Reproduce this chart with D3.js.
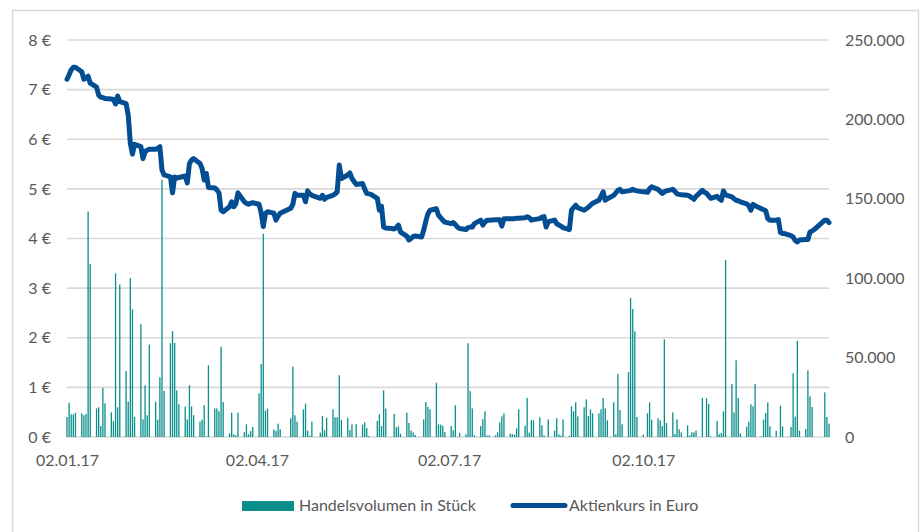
<!DOCTYPE html>
<html>
<head>
<meta charset="utf-8">
<script src="https://d3js.org/d3.v7.min.js"></script>
<style>
  body { margin: 0; background: #fff; }
  svg text { font-family: Lato, "Open Sans", sans-serif; fill: #595959; }
</style>
</head>
<body>
<div id="vis-container"></div>
<script>
// width and height
const w = 920
const h = 532
const margin = { left: 67, right: 91, top: 40, bottom: 95 }
const fontSize = "16px"

// x axis labels (date axis)
const tickDates = ["2017-01-02", "2017-04-02", "2017-07-02", "2017-10-02"]
const tickLabels = ["02.01.17", "02.04.17", "02.07.17", "02.10.17"]
const firstDay = "2017-01-02"
const lastDay = "2017-12-29"

// left axis: share price in euro, right axis: volume in shares
const priceTicks = [0, 1, 2, 3, 4, 5, 6, 7, 8]
const volumeTicks = [0, 50000, 100000, 150000, 200000, 250000]

const seriesNames = ["Handelsvolumen in Stück", "Aktienkurs in Euro"]

// closing price
const price = [
    ["01-02", 7.21], ["01-03", 7.30], ["01-04", 7.40], ["01-05", 7.45], ["01-06", 7.45],
    ["01-09", 7.36], ["01-10", 7.21], ["01-11", 7.24], ["01-12", 7.27], ["01-13", 7.13],
    ["01-16", 7.05], ["01-17", 6.89], ["01-18", 6.85], ["01-19", 6.84], ["01-20", 6.82],
    ["01-23", 6.81], ["01-24", 6.80], ["01-25", 6.71], ["01-26", 6.87], ["01-27", 6.76],
    ["01-30", 6.72], ["01-31", 6.49], ["02-01", 5.92], ["02-02", 5.70], ["02-03", 5.90],
    ["02-06", 5.85], ["02-07", 5.61], ["02-08", 5.75], ["02-09", 5.78], ["02-10", 5.80],
    ["02-13", 5.80], ["02-14", 5.82], ["02-15", 5.85], ["02-16", 5.38], ["02-17", 5.28],
    ["02-20", 5.24], ["02-21", 4.92], ["02-22", 5.24], ["02-23", 5.22], ["02-24", 5.23],
    ["02-27", 5.26], ["02-28", 5.12], ["03-01", 5.51], ["03-02", 5.58], ["03-03", 5.61],
    ["03-06", 5.51], ["03-07", 5.41], ["03-08", 5.18], ["03-09", 5.31], ["03-10", 5.03],
    ["03-13", 5.02], ["03-14", 4.98], ["03-15", 4.92], ["03-16", 4.57], ["03-17", 4.54],
    ["03-20", 4.64], ["03-21", 4.74], ["03-22", 4.64], ["03-23", 4.70], ["03-24", 4.92],
    ["03-27", 4.74], ["03-28", 4.71], ["03-29", 4.69], ["03-30", 4.71], ["03-31", 4.72],
    ["04-03", 4.69], ["04-04", 4.51], ["04-05", 4.24], ["04-06", 4.50], ["04-07", 4.54],
    ["04-10", 4.51], ["04-11", 4.37], ["04-12", 4.45], ["04-13", 4.51],
    ["04-18", 4.61], ["04-19", 4.69], ["04-20", 4.91], ["04-21", 4.87],
    ["04-24", 4.87], ["04-25", 4.74], ["04-26", 4.96], ["04-27", 4.90], ["04-28", 4.87],
    ["05-02", 4.81], ["05-03", 4.87], ["05-04", 4.79], ["05-05", 4.83],
    ["05-08", 4.87], ["05-09", 4.90], ["05-10", 4.94], ["05-11", 5.48], ["05-12", 5.21],
    ["05-15", 5.28], ["05-16", 5.32], ["05-17", 5.21], ["05-18", 5.15], ["05-19", 5.09],
    ["05-22", 5.11], ["05-23", 5.00], ["05-24", 4.91], ["05-25", 4.90], ["05-26", 4.89],
    ["05-29", 4.81], ["05-30", 4.57], ["05-31", 4.65], ["06-01", 4.23], ["06-02", 4.21],
    ["06-05", 4.20], ["06-06", 4.19], ["06-07", 4.22], ["06-08", 4.27], ["06-09", 4.13],
    ["06-12", 4.05], ["06-13", 3.97], ["06-14", 4.00], ["06-15", 4.04], ["06-16", 4.05],
    ["06-19", 4.03], ["06-20", 4.17], ["06-21", 4.35], ["06-22", 4.50], ["06-23", 4.57],
    ["06-26", 4.60], ["06-27", 4.47], ["06-28", 4.42], ["06-29", 4.37], ["06-30", 4.33],
    ["07-03", 4.30], ["07-04", 4.32], ["07-05", 4.28], ["07-06", 4.23], ["07-07", 4.20],
    ["07-10", 4.18], ["07-11", 4.22], ["07-12", 4.23], ["07-13", 4.23], ["07-14", 4.30],
    ["07-17", 4.37], ["07-18", 4.27], ["07-19", 4.33], ["07-20", 4.37], ["07-21", 4.37],
    ["07-24", 4.38], ["07-25", 4.38], ["07-26", 4.38], ["07-27", 4.25], ["07-28", 4.40],
    ["07-31", 4.40], ["08-01", 4.40], ["08-02", 4.40], ["08-03", 4.41], ["08-04", 4.41],
    ["08-07", 4.42], ["08-08", 4.44], ["08-09", 4.42], ["08-10", 4.37], ["08-11", 4.38],
    ["08-14", 4.40], ["08-15", 4.43], ["08-16", 4.44], ["08-17", 4.23], ["08-18", 4.34],
    ["08-21", 4.37], ["08-22", 4.30], ["08-23", 4.27], ["08-24", 4.25], ["08-25", 4.22],
    ["08-28", 4.18], ["08-29", 4.57], ["08-30", 4.62], ["08-31", 4.67], ["09-01", 4.62],
    ["09-04", 4.57], ["09-05", 4.60], ["09-06", 4.63], ["09-07", 4.67], ["09-08", 4.71],
    ["09-11", 4.77], ["09-12", 4.85], ["09-13", 4.94], ["09-14", 4.77], ["09-15", 4.80],
    ["09-18", 4.87], ["09-19", 4.92], ["09-20", 4.97], ["09-21", 4.99], ["09-22", 4.94],
    ["09-25", 4.96], ["09-26", 4.97], ["09-27", 4.99], ["09-28", 4.97], ["09-29", 4.96],
    ["10-02", 4.94], ["10-03", 4.94], ["10-04", 4.93], ["10-05", 5.00], ["10-06", 5.04],
    ["10-09", 4.99], ["10-10", 4.95], ["10-11", 4.91], ["10-12", 4.94], ["10-13", 4.96],
    ["10-16", 4.99], ["10-17", 4.95], ["10-18", 4.90], ["10-19", 4.89], ["10-20", 4.88],
    ["10-23", 4.87], ["10-24", 4.85], ["10-25", 4.82], ["10-26", 4.79], ["10-27", 4.85],
    ["10-30", 4.97], ["10-31", 4.93], ["11-01", 4.91], ["11-02", 4.86], ["11-03", 4.81],
    ["11-06", 4.85], ["11-07", 4.80], ["11-08", 4.77], ["11-09", 4.96], ["11-10", 4.88],
    ["11-13", 4.84], ["11-14", 4.80], ["11-15", 4.77], ["11-16", 4.76], ["11-17", 4.74],
    ["11-20", 4.70], ["11-21", 4.66], ["11-22", 4.57], ["11-23", 4.69], ["11-24", 4.66],
    ["11-27", 4.60], ["11-28", 4.58], ["11-29", 4.56], ["11-30", 4.40], ["12-01", 4.37],
    ["12-04", 4.37], ["12-05", 4.38], ["12-06", 4.12], ["12-07", 4.10], ["12-08", 4.10],
    ["12-11", 4.06], ["12-12", 4.03], ["12-13", 3.96], ["12-14", 3.93], ["12-15", 3.97],
    ["12-18", 3.98], ["12-19", 3.98], ["12-20", 4.13], ["12-21", 4.15], ["12-22", 4.18],
    ["12-27", 4.37], ["12-28", 4.37], ["12-29", 4.32]
]

// traded volume in shares (days without trades left out)
const volume = [
    ["01-02", 12600], ["01-03", 21600], ["01-04", 14300], ["01-05", 14300], ["01-06", 15300],
    ["01-09", 14900], ["01-10", 13700], ["01-11", 14500], ["01-12", 142000], ["01-13", 109000],
    ["01-16", 18000], ["01-17", 18700], ["01-18", 6900], ["01-19", 31000], ["01-20", 21200],
    ["01-23", 15500], ["01-24", 10000], ["01-25", 103000], ["01-26", 18700], ["01-27", 96000],
    ["01-30", 41600], ["01-31", 22300], ["02-01", 100000], ["02-02", 80400], ["02-03", 12600],
    ["02-06", 71000], ["02-07", 11100], ["02-08", 32600], ["02-09", 13700], ["02-10", 58200],
    ["02-13", 22300], ["02-14", 10900], ["02-15", 37600], ["02-16", 162000], ["02-17", 29000],
    ["02-20", 59000], ["02-21", 66600], ["02-22", 59200], ["02-23", 29400], ["02-24", 20600],
    ["02-27", 19100], ["02-28", 11100], ["03-01", 32600], ["03-02", 19300], ["03-03", 13700],
    ["03-06", 9700], ["03-07", 10900], ["03-08", 20000], ["03-09", 400], ["03-10", 45200],
    ["03-13", 18000], ["03-14", 18000], ["03-15", 16200], ["03-16", 56900], ["03-17", 22000],
    ["03-20", 2300], ["03-21", 15300], ["03-22", 1700], ["03-23", 1000], ["03-24", 15300],
    ["03-27", 3100], ["03-28", 8000], ["03-29", 1700], ["03-30", 3800], ["03-31", 6300],
    ["04-03", 27500], ["04-04", 46000], ["04-05", 128000], ["04-06", 16600], ["04-07", 17900],
    ["04-10", 4800], ["04-11", 3800], ["04-12", 8400], ["04-13", 4800],
    ["04-18", 11800], ["04-19", 44300], ["04-20", 13700], ["04-21", 9700],
    ["04-24", 17400], ["04-25", 21000], ["04-26", 4000], ["04-27", 800], ["04-28", 9700],
    ["05-02", 2700], ["05-03", 13200], ["05-04", 4200], ["05-05", 12200],
    ["05-08", 17400], ["05-09", 12400], ["05-10", 12400], ["05-11", 38900], ["05-12", 10700],
    ["05-15", 12200], ["05-16", 4400], ["05-17", 8000], ["05-19", 8000],
    ["05-22", 7800], ["05-23", 9200], ["05-24", 5700], ["05-25", 600],
    ["05-29", 10100], ["05-30", 14300], ["05-31", 6900], ["06-01", 29400], ["06-02", 17900],
    ["06-06", 14500], ["06-07", 6100], ["06-08", 6700], ["06-09", 2100],
    ["06-12", 15300], ["06-13", 8800], ["06-14", 4000], ["06-15", 2900], ["06-16", 1300],
    ["06-20", 11100], ["06-21", 22000], ["06-22", 18900], ["06-23", 17400],
    ["06-26", 34200], ["06-27", 8000], ["06-28", 7800], ["06-29", 7100], ["06-30", 3100],
    ["07-03", 6900], ["07-04", 4200], ["07-05", 20000], ["07-07", 2700],
    ["07-10", 1700], ["07-11", 59000], ["07-12", 29000], ["07-13", 18000], ["07-14", 1000],
    ["07-17", 6900], ["07-18", 11300], ["07-19", 16200], ["07-20", 1000], ["07-21", 1000],
    ["07-24", 1000], ["07-25", 2900], ["07-26", 9200], ["07-27", 13000], ["07-28", 14900],
    ["07-31", 2100], ["08-01", 1700], ["08-02", 1500], ["08-03", 5500], ["08-04", 17400],
    ["08-07", 7100], ["08-08", 24600], ["08-09", 2700], ["08-10", 10700], ["08-11", 10500],
    ["08-14", 12400], ["08-15", 7300], ["08-16", 1000], ["08-18", 11100],
    ["08-21", 4000], ["08-22", 11800], ["08-23", 1700], ["08-24", 800], ["08-25", 11100],
    ["08-28", 800], ["08-29", 19300], ["08-30", 16200], ["08-31", 21800], ["09-01", 13000],
    ["09-04", 18700], ["09-05", 23700], ["09-06", 13200], ["09-07", 17400], ["09-08", 14900],
    ["09-11", 14900], ["09-12", 17400], ["09-13", 24600], ["09-14", 18000], ["09-15", 10500],
    ["09-18", 21800], ["09-19", 1700], ["09-20", 39700], ["09-21", 17000], ["09-22", 8000],
    ["09-25", 41000], ["09-26", 87600], ["09-27", 80600], ["09-28", 66600], ["09-29", 12600],
    ["10-02", 1500], ["10-04", 14900], ["10-05", 21800], ["10-06", 10900],
    ["10-09", 11800], ["10-10", 10500], ["10-11", 6900], ["10-12", 61500], ["10-13", 8800],
    ["10-16", 15500], ["10-17", 1900], ["10-18", 11100], ["10-19", 4800], ["10-20", 2900],
    ["10-23", 7300], ["10-24", 1000], ["10-25", 2900], ["10-26", 2900], ["10-27", 4000],
    ["10-30", 24600], ["11-01", 24400], ["11-02", 20800], ["11-03", 400],
    ["11-06", 10100], ["11-07", 1700], ["11-08", 2500], ["11-09", 16200], ["11-10", 111500],
    ["11-13", 33400], ["11-14", 15500], ["11-15", 48300], ["11-16", 24600], ["11-17", 2300],
    ["11-20", 6500], ["11-21", 9700], ["11-22", 20600], ["11-23", 19300], ["11-24", 33400],
    ["11-27", 400], ["11-28", 10900], ["11-29", 15100], ["11-30", 21800], ["12-01", 6700],
    ["12-04", 4000], ["12-06", 19700], ["12-07", 6700],
    ["12-11", 6300], ["12-12", 40100], ["12-13", 12800], ["12-14", 60500], ["12-15", 4000],
    ["12-18", 5000], ["12-19", 42000], ["12-20", 25600], ["12-21", 18900],
    ["12-27", 28100], ["12-28", 12600], ["12-29", 8400]
]

const parseDay = d3.timeParse("%Y-%m-%d")
const toDate = md => parseDay("2017-" + md)

// german number format
const de = d3.formatLocale({ decimal: ",", thousands: ".", grouping: [3], currency: ["", " €"] })

// colors
const barColor = "#0a8f8c"
const lineColor = "#034d93"
const gridColor = "#d9d9d9"

const svg = d3.select("#vis-container")
    .append("svg")
    .attr("width", w)
    .attr("height", h)

// chart frame
svg.append("rect")
    .attr("x", 12.5)
    .attr("y", 10.5)
    .attr("width", 906)
    .attr("height", 540)
    .attr("fill", "none")
    .attr("stroke", gridColor)
    .attr("stroke-width", 1.5)

// scales
const xScale = d3.scaleTime()
    .domain([parseDay(firstDay), parseDay(lastDay)])
    .range([margin.left, w - margin.right])

const yPrice = d3.scaleLinear()
    .domain([0, 8])
    .range([h - margin.bottom, margin.top])

const yVolume = d3.scaleLinear()
    .domain([0, 250000])
    .range([h - margin.bottom, margin.top])

// gridlines
svg.append("g")
    .selectAll("line")
    .data(priceTicks)
    .enter()
    .append("line")
    .attr("x1", margin.left)
    .attr("x2", w - margin.right)
    .attr("y1", d => yPrice(d))
    .attr("y2", d => yPrice(d))
    .attr("stroke", gridColor)
    .attr("stroke-width", 1.6)

// left axis
const yAxisLeft = d3.axisLeft(yPrice)
    .tickValues(priceTicks)
    .tickSize(0)
    .tickPadding(16)
    .tickFormat(d => d + " €")

svg.append("g")
    .attr("class", "y axis")
    .attr("transform", "translate(" + margin.left + ",0)")
    .call(yAxisLeft)
    .call(g => g.select(".domain").remove())
    .selectAll("text")
    .style("font-size", fontSize)
    .attr("fill", "#595959")

// right axis
const yAxisRight = d3.axisRight(yVolume)
    .tickValues(volumeTicks)
    .tickSize(0)
    .tickPadding(16)
    .tickFormat(de.format(",.0f"))

svg.append("g")
    .attr("class", "y axis")
    .attr("transform", "translate(" + (w - margin.right) + ",0)")
    .call(yAxisRight)
    .call(g => g.select(".domain").remove())
    .selectAll("text")
    .style("font-size", fontSize)
    .attr("fill", "#595959")

// x axis
const xAxis = d3.axisBottom(xScale)
    .tickValues(tickDates.map(parseDay))
    .tickSize(0)
    .tickPadding(18)
    .tickFormat((d, i) => tickLabels[i])

svg.append("g")
    .attr("class", "x axis")
    .attr("transform", "translate(0," + (h - margin.bottom) + ")")
    .call(xAxis)
    .call(g => g.select(".domain").remove())
    .selectAll("text")
    .style("font-size", fontSize)
    .attr("fill", "#595959")

// volume bars
svg.append("g")
    .selectAll("rect")
    .data(volume)
    .enter()
    .append("rect")
    .attr("x", d => xScale(toDate(d[0])) - 0.65)
    .attr("width", 1.3)
    .attr("y", d => yVolume(d[1]))
    .attr("height", d => yVolume(0) - yVolume(d[1]))
    .attr("fill", barColor)

// price line
const line = d3.line()
    .x(d => xScale(toDate(d[0])))
    .y(d => yPrice(d[1]))

svg.append("path")
    .datum(price)
    .attr("d", line)
    .attr("fill", "none")
    .attr("stroke", lineColor)
    .attr("stroke-width", 5)
    .attr("stroke-linejoin", "round")
    .attr("stroke-linecap", "round")

// legend
const legend = svg.append("g").attr("class", "legend")

legend.append("rect")
    .attr("x", 242)
    .attr("y", 501)
    .attr("width", 52)
    .attr("height", 10)
    .attr("fill", barColor)

legend.append("text")
    .attr("x", 299)
    .attr("y", 511)
    .style("font-size", fontSize)
    .text(seriesNames[0])

legend.append("line")
    .attr("x1", 513)
    .attr("x2", 565)
    .attr("y1", 505.5)
    .attr("y2", 505.5)
    .attr("stroke", lineColor)
    .attr("stroke-width", 5)
    .attr("stroke-linecap", "round")

legend.append("text")
    .attr("x", 569)
    .attr("y", 511)
    .style("font-size", fontSize)
    .text(seriesNames[1])
</script>
</body>
</html>
